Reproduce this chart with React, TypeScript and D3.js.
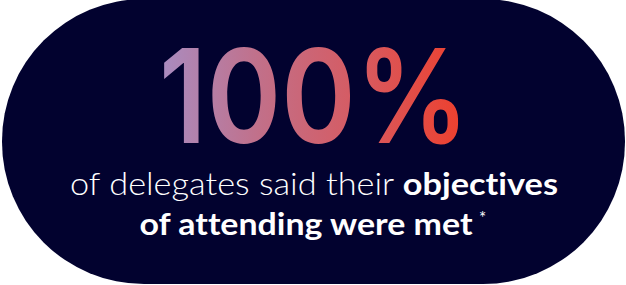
import * as d3 from 'd3';

// stat content
const statValue = [100];
const statSuffix = ['%'];
const lineOneLight = ['of delegates said their'];
const lineOneBold = ['objectives'];
const lineTwoBold = ['of attending were met'];
const footnoteMark = ['*'];
const gradientColors = ['#a98dc2', '#c26f88', '#d8595e', '#ef3e2a'];

const W = 626;
const H = 285;

export default function App() {
  const grad = d3.scaleLinear<number>().domain([0, gradientColors.length - 1]).range([0, 100]);
  const label = d3.format('d')(statValue[0]) + statSuffix[0];
  const captionStyle = { fontVariantLigatures: 'none' as const };

  return (
    <svg width={W} height={H} style={{ position: 'absolute', left: 0, top: 0 }}>
      <defs>
        <linearGradient id="statGrad" gradientUnits="userSpaceOnUse" x1={158} y1={0} x2={470} y2={0}>
          {gradientColors.map((c, i) => (
            <stop key={i} offset={`${grad(i)}%`} stopColor={c} />
          ))}
        </linearGradient>
      </defs>

      {/* pill background */}
      <rect x={2} y={-1} width={623} height={285} rx={142} ry={142} fill="#02022f" />

      {/* big number */}
      <text
        x={314}
        y={143}
        textAnchor="middle"
        fontFamily="Inter, 'Open Sans', sans-serif"
        fontWeight={600}
        fontSize={130}
        fill="url(#statGrad)"
        textLength={310}
        lengthAdjust="spacingAndGlyphs"
      >
        {label}
      </text>

      {/* caption */}
      <text
        x={314}
        y={195}
        textAnchor="middle"
        fontFamily="Lato, 'Open Sans', sans-serif"
        fontSize={31}
        fill="#ffffff"
        style={captionStyle}
        textLength={488}
        lengthAdjust="spacingAndGlyphs"
      >
        <tspan fontWeight={300}>{lineOneLight[0]} </tspan>
        <tspan fontWeight={700}>{lineOneBold[0]}</tspan>
      </text>
      <text
        x={306}
        y={235}
        textAnchor="middle"
        fontFamily="Lato, 'Open Sans', sans-serif"
        fontSize={31}
        fontWeight={700}
        fill="#ffffff"
        style={captionStyle}
        textLength={333}
        lengthAdjust="spacingAndGlyphs"
      >
        {lineTwoBold[0]}
      </text>
      <text x={479} y={224} fontFamily="Lato, sans-serif" fontSize={17} fill="#ffffff" textAnchor="start">
        {footnoteMark[0]}
      </text>
    </svg>
  );
}
